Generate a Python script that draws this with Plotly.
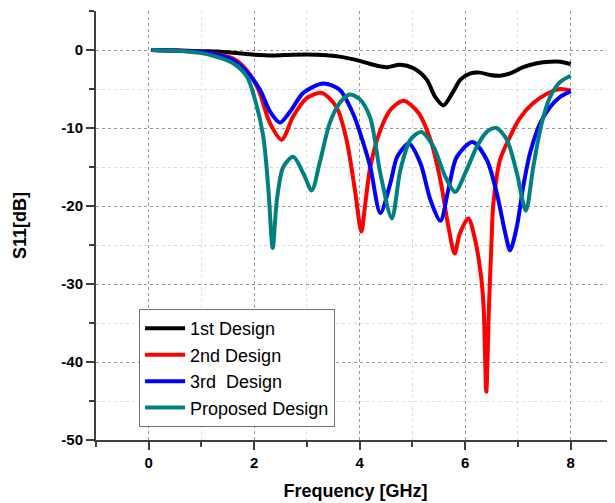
import plotly.graph_objects as go

# ---- data ----
freq_1st = [0.05, 0.5, 1.0, 1.3, 1.6, 2.0, 2.36, 2.74, 3.18, 3.62, 4.0, 4.2, 4.39, 4.52, 4.77,
            5.02, 5.27, 5.43, 5.59, 5.75, 5.91, 6.1, 6.28, 6.47, 6.66, 6.85, 7.1, 7.36, 7.61, 7.8, 8.0]
s11_1st = [0, -0.05, -0.15, -0.2, -0.35, -0.6, -0.7, -0.6, -0.6, -0.85, -1.4, -1.8, -2.1, -2.2, -1.9,
           -2.35, -3.8, -6.0, -7.1, -5.6, -3.8, -3.0, -2.9, -3.2, -3.3, -3.0, -2.2, -1.7, -1.5, -1.5, -1.8]

freq_2nd = [0.05, 0.5, 1.0, 1.3, 1.6, 1.86, 2.08, 2.3, 2.52, 2.74, 2.99, 3.28, 3.56, 3.75, 3.91, 4.03,
            4.1, 4.2, 4.39, 4.58, 4.83, 5.12, 5.34, 5.53, 5.68, 5.8, 5.9, 6.06, 6.19, 6.3, 6.35, 6.4,
            6.45, 6.5, 6.53, 6.66, 6.85, 7.03, 7.29, 7.55, 7.8, 8.0]
s11_2nd = [0, -0.08, -0.3, -0.55, -1.1, -2.6, -5.1, -9.4, -11.5, -8.5, -6.2, -5.5, -7.3, -11.5, -18, -23.3,
           -20, -15, -10.3, -7.7, -6.5, -8.1, -11.5, -16.7, -22.6, -26.1, -23.5, -21.6, -24.4, -29, -33, -43.8,
           -33, -24.4, -20, -14.1, -11.1, -8.8, -6.8, -5.6, -5.0, -5.2]

freq_3rd = [0.05, 0.5, 1.0, 1.3, 1.6, 1.86, 2.11, 2.3, 2.49, 2.68, 2.93, 3.31, 3.62, 3.87, 4.0, 4.2,
            4.39, 4.58, 4.71, 4.93, 5.15, 5.34, 5.53, 5.68, 5.84, 6.14, 6.41, 6.6, 6.76, 6.85, 6.98,
            7.1, 7.23, 7.42, 7.61, 7.8, 8.0]
s11_3rd = [0, -0.08, -0.3, -0.6, -1.3, -2.8, -5.1, -7.9, -9.3, -7.9, -5.5, -4.3, -5.1, -8.1, -10.5, -15,
           -20.9, -17.1, -13.7, -12.0, -14.5, -19.2, -21.9, -17.9, -13.7, -11.8, -14.1, -18.4, -23.5, -25.7, -22.6,
           -17.5, -13.2, -9.4, -7.3, -6.0, -5.3]

freq_prop = [0.05, 0.5, 1.0, 1.3, 1.6, 1.86, 2.0, 2.17, 2.27, 2.35, 2.43, 2.55, 2.74, 2.93, 3.09, 3.24,
             3.43, 3.62, 3.81, 4.0, 4.2, 4.39, 4.61, 4.77, 4.96, 5.17, 5.4, 5.62, 5.81, 6.0, 6.22, 6.41,
             6.59, 6.79, 6.98, 7.15, 7.29, 7.45, 7.61, 7.8, 8.0]
s11_prop = [0, -0.1, -0.4, -0.9, -1.7, -3.4, -6, -11, -18, -25.4, -19.2, -15, -13.7, -15.8, -18, -14.5,
            -9.4, -6.8, -5.7, -6.3, -8.7, -15.8, -21.6, -15.4, -11.5, -10.5, -12.4, -16.2, -18.2, -15.8, -12.4, -10.5,
            -10.0, -11.5, -15.8, -20.6, -15, -9.4, -6.0, -4.1, -3.3]

series_names = ["1st Design", "2nd Design", "3rd\u00a0 Design", "Proposed Design"]
series_colors = ["#000000", "#ff0000", "#0000ff", "#008080"]
x_ticks = [0, 2, 4, 6, 8]
y_ticks = [0, -10, -20, -30, -40, -50]

fig = go.Figure()
for name, color, fx, fy in zip(series_names, series_colors,
                               [freq_1st, freq_2nd, freq_3rd, freq_prop],
                               [s11_1st, s11_2nd, s11_3rd, s11_prop]):
    fig.add_trace(go.Scatter(x=fx, y=fy, mode="lines", name=name,
                             line=dict(color=color, width=4, shape="spline", smoothing=0.8)))

axis_font = dict(family="Liberation Sans, Arial, sans-serif", size=15, color="#000000", weight="bold")
title_font = dict(family="Liberation Sans, Arial, sans-serif", size=18, color="#000000", weight="bold")

# the page body has an 8px margin: the figure is placed at (8, 8)
fig.update_layout(
    width=607, height=495,
    margin=dict(l=88, r=0, t=3, b=63),
    paper_bgcolor="white", plot_bgcolor="white",
    showlegend=True,
    legend=dict(x=0.083, y=0.305, xanchor="left", yanchor="top",
                bgcolor="white", bordercolor="#707070", borderwidth=1,
                font=dict(family="Liberation Sans, Arial, sans-serif", size=18, color="#000000"),
                tracegroupgap=0, itemwidth=40),
)
fig.update_xaxes(
    range=[-1, 8.84], tickvals=x_ticks, ticktext=[str(v) for v in x_ticks],
    showline=True, linecolor="#404040", linewidth=2,
    ticks="outside", ticklen=8, tickwidth=2, tickcolor="#404040",
    tickfont=axis_font,
    showgrid=True, gridcolor="#9a9a9a", griddash="dot", gridwidth=1,
    minor=dict(dtick=1, tick0=-1, ticks="outside", ticklen=5, tickwidth=2, tickcolor="#404040",
               showgrid=True, gridcolor="#dcdcdc", griddash="dot"),
    zeroline=False,
    title=dict(text="Frequency [GHz]", font=title_font, standoff=14),
    automargin=False,
)
fig.update_yaxes(
    range=[-50, 5], tickvals=y_ticks, ticktext=[str(v) for v in y_ticks],
    showline=True, linecolor="#404040", linewidth=2,
    ticks="outside", ticklen=8, tickwidth=2, tickcolor="#404040",
    tickfont=axis_font,
    showgrid=True, gridcolor="#9a9a9a", griddash="dot", gridwidth=1,
    minor=dict(dtick=5, tick0=5, ticks="outside", ticklen=5, tickwidth=2, tickcolor="#404040",
               showgrid=True, gridcolor="#dcdcdc", griddash="dot"),
    zeroline=False,
    title=dict(text="S11[dB]", font=title_font, standoff=30),
    automargin=False,
)

fig.write_html("out.html")
